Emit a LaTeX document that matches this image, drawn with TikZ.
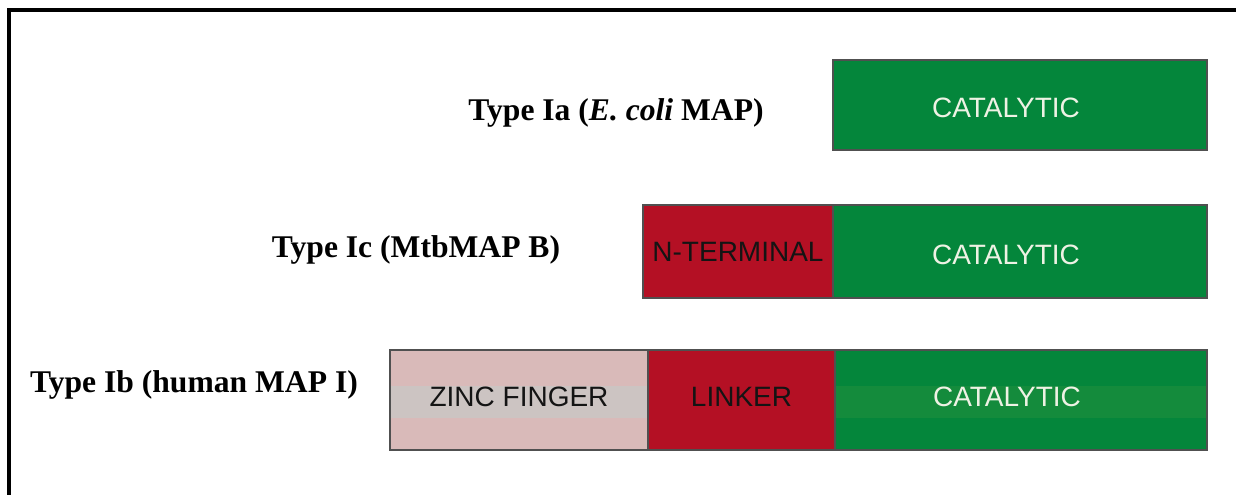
\documentclass[tikz,border=0pt]{standalone}
\usepackage{fontspec}
\setmainfont{Liberation Serif}
\setsansfont{Liberation Sans}
\usetikzlibrary{positioning}

\definecolor{catgreen}{RGB}{4,134,59}
\definecolor{catband}{RGB}{20,139,60}
\definecolor{linkred}{RGB}{180,16,36}
\definecolor{zincpink}{RGB}{217,186,185}
\definecolor{zincband}{RGB}{204,196,194}
\definecolor{edgegray}{RGB}{80,80,80}
\definecolor{cattext}{RGB}{238,242,228}

\begin{document}
\begin{tikzpicture}[
			x=1pt, y=-1pt,
			domainbox/.style={draw=edgegray, line width=1.5pt, rectangle, inner sep=0pt, outer sep=0pt, text=black!92, font=\sffamily\fontsize{28}{30}\selectfont},
			catalytic/.style={domainbox, fill=catgreen, minimum width=374pt, text=cattext, execute at begin node={\hspace*{-28pt}}},
			nterminal/.style={domainbox, fill=linkred, minimum width=190pt},
			linkerbox/.style={domainbox, fill=linkred, minimum width=187pt},
			zincbox/.style={domainbox, fill=zincpink, minimum width=258pt},
			band/.style={path picture={\fill[#1] ([yshift=14pt]path picture bounding box.west) rectangle ([yshift=-18pt]path picture bounding box.east);}},
			typelabel/.style={anchor=base, inner sep=0pt, font=\bfseries\fontsize{31.6}{36}\selectfont}
			]
			\useasboundingbox (0,0) rectangle (1236,495);
			
			% frame (top and left edge only)
			\draw[line width=4pt] (1236,10) -- (9,10) -- (9,495);
			
			% Type Ia
			\node[catalytic, minimum height=90pt, text height=26pt] (cat_a) at (1020,105) {CATALYTIC};
			\node[typelabel] (lab_a) at (616,120) {Type Ia (\textit{E. coli} MAP)};
			
			% Type Ic
			\node[catalytic, minimum height=93pt, text height=26pt] (cat_c) at (1020,251.5) {CATALYTIC};
			\node[nterminal, minimum height=93pt, left=0pt of cat_c] (nterm_c) {N-TERMINAL};
			\node[typelabel] (lab_c) at (416,257) {Type Ic (MtbMAP B)};
			
			% Type Ib
			\node[catalytic, band=catband, minimum width=372pt, minimum height=100pt, text depth=7pt] (cat_b) at (1021,400) {CATALYTIC};
			\node[linkerbox, minimum height=100pt, text depth=7pt, left=0pt of cat_b] (linker_b) {LINKER};
			\node[zincbox, band=zincband, minimum height=100pt, text depth=7pt, left=0pt of linker_b] (zinc_b) {ZINC FINGER};
			\node[typelabel] (lab_b) at (194,392) {Type Ib (human MAP I)};
			
		\end{tikzpicture}
\end{document}
